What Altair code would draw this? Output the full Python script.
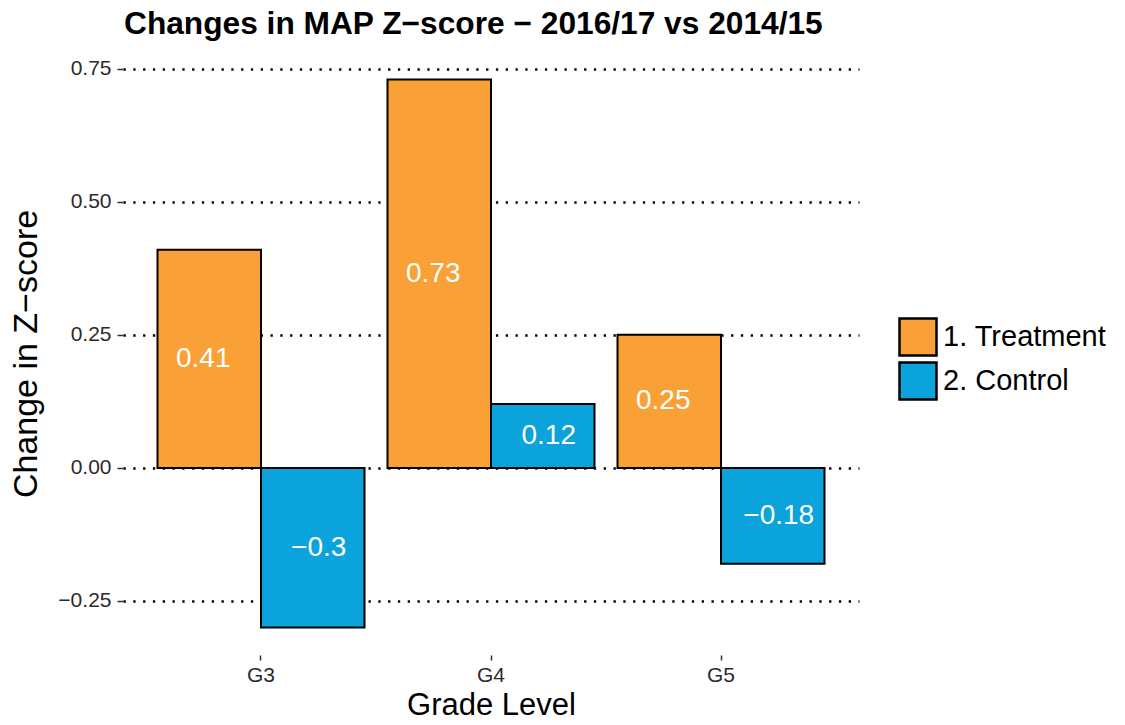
import altair as alt
import pandas as pd

# ---- data ----
grades = ["G3", "G4", "G5"]
groups = ["1. Treatment", "2. Control"]
treatment = [0.41, 0.73, 0.25]
control = [-0.30, 0.12, -0.18]
y_ticks = [-0.25, 0.0, 0.25, 0.5, 0.75]
colors = ["#F9A037", "#0BA3DC"]

rows = []
for g, t, c in zip(grades, treatment, control):
    rows.append({"grade": g, "group": groups[0], "value": t})
    rows.append({"grade": g, "group": groups[1], "value": c})
df = pd.DataFrame(rows)

# ggplot-like 5% expansion of the data range
vals = treatment + control
lo, hi = min(vals), max(vals)
span = hi - lo
y_dom = [lo - 0.05 * span, hi + 0.05 * span]

FONT = "Liberation Sans"

x_axis = alt.Axis(
    title="Grade Level",
    labelAngle=0,
    labelFontSize=21,
    labelFont=FONT,
    labelColor="#2b2b2b",
    labelPadding=4,
    tickSize=5,
    tickColor="#333333",
    tickWidth=1.5,
    domain=False,
    grid=False,
    titleFont=FONT,
    titleFontSize=31,
    titleFontWeight="normal",
    titleColor="black",
    titleBaseline="alphabetic",
    titleY=59,
)
y_axis = alt.Axis(
    title="Change in Z\u2212score",
    values=y_ticks,
    format=".2f",
    labelFontSize=21,
    labelFont=FONT,
    labelColor="#2b2b2b",
    labelPadding=6,
    tickSize=6,
    tickColor="#333333",
    tickWidth=1.5,
    domain=False,
    grid=True,
    gridColor="black",
    gridDash=[2.3, 7.5],
    gridWidth=2.3,
    titleFont=FONT,
    titleFontSize=34,
    titleFontWeight="normal",
    titleColor="black",
    titleBaseline="alphabetic",
    titleX=-87,
    titleY=301.5,
)

x_scale = alt.Scale(paddingInner=0.1, paddingOuter=0.15)
off_scale = alt.Scale(paddingInner=0, paddingOuter=0)
y_scale = alt.Scale(domain=y_dom, nice=False, zero=False)

bars = alt.Chart(df).mark_bar(stroke="black", strokeWidth=2).encode(
    x=alt.X("grade:N", sort=grades, scale=x_scale, axis=x_axis),
    xOffset=alt.XOffset("group:N", sort=groups, scale=off_scale),
    y=alt.Y("value:Q", scale=y_scale, axis=y_axis),
    color=alt.Color(
        "group:N",
        sort=groups,
        scale=alt.Scale(domain=groups, range=colors),
        legend=alt.Legend(
            title=None,
            orient="none",
            legendX=775,
            legendY=265,
            symbolType="square",
            symbolSize=1369,
            symbolStrokeColor="black",
            symbolStrokeWidth=2.5,
            symbolOpacity=1,
            labelFont=FONT,
            labelFontSize=29,
            labelColor="black",
            labelOffset=5,
            labelLimit=400,
            rowPadding=-20,
            padding=0,
        ),
    ),
)


def label_layer(group_name, shift):
    return (
        alt.Chart(df)
        .transform_filter(alt.datum.group == group_name)
        .transform_calculate(mid="datum.value / 2")
        .mark_text(color="white", fontSize=28, align="center", baseline="middle", dx=shift, font=FONT)
        .encode(
            x=alt.X("grade:N", sort=grades, scale=x_scale, axis=x_axis),
            xOffset=alt.XOffset("group:N", sort=groups, scale=off_scale),
            y=alt.Y("mid:Q", scale=y_scale, axis=y_axis),
            text=alt.Text("value:Q", format="~g"),
        )
    )


chart = (
    alt.layer(bars, label_layer(groups[0], -6), label_layer(groups[1], 6))
    .properties(
        width=736,
        height=603,
        autosize=alt.AutoSizeParams(type="none"),
        padding={"left": 115, "top": 44, "right": 250, "bottom": 62},
        title=alt.TitleParams(
            "Changes in MAP Z\u2212score \u2212 2016/17 vs 2014/15",
            anchor="start",
            frame="group",
            fontSize=31.7,
            font=FONT,
            fontWeight="bold",
            color="black",
            baseline="alphabetic",
            offset=17,
            dx=1,
            dy=31,
        ),
    )
    .configure(font=FONT)
    .configure_view(stroke=None)
)

chart.save("out.html", embed_options={"renderer": "svg", "actions": False})
